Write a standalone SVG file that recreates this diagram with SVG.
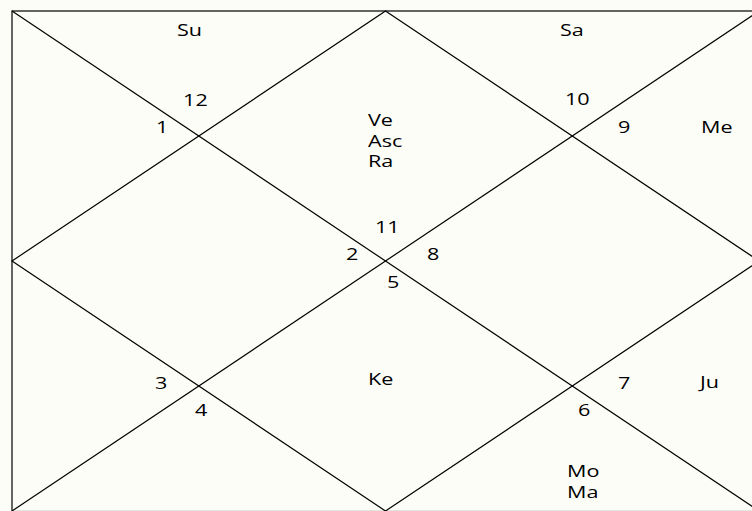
<svg xmlns="http://www.w3.org/2000/svg" width="752" height="511" viewBox="0 0 752 511">
<style>
.bg{fill:#fdfdf8}
.ln{stroke:#000;stroke-width:1.2;fill:none}
text{font-family:"Open Sans","Noto Sans","DejaVu Sans",sans-serif;font-size:16px;fill:#000}
</style>
<rect class="bg" x="0" y="0" width="752" height="511"/>
<g id="connectors">
<rect class="ln" x="12" y="11" width="747" height="500.5"/>
<line class="ln" x1="12" y1="11" x2="759" y2="511"/>
<line class="ln" x1="12" y1="511" x2="759" y2="11"/>
<polygon class="ln" points="385.5,11 759,261 385.5,511 12,261"/>
</g>
<g transform="scale(1.35 1)">
<g id="house1"><text x="115.6" y="133">1</text><text x="272.6" y="126">Ve</text><text x="272.6" y="147">Asc</text><text x="272.6" y="167">Ra</text></g>
<g id="house2"><text x="131.1" y="36">Su</text><text x="135.6" y="106">12</text></g>
<g id="house3"><text x="114.8" y="389">3</text></g>
<g id="house4"><text x="144.4" y="416">4</text><text x="272.6" y="385">Ke</text></g>
<g id="house5"><text x="286.7" y="288">5</text></g>
<g id="house6"><text x="428.1" y="416">6</text><text x="420" y="477">Mo</text><text x="420" y="498">Ma</text></g>
<g id="house7"><text x="457.8" y="389">7</text><text x="518.5" y="388">Ju</text></g>
<g id="house8"><text x="316.3" y="260">8</text></g>
<g id="house9"><text x="457.8" y="133">9</text><text x="519.3" y="133">Me</text></g>
<g id="house10"><text x="418.5" y="105">10</text><text x="414.8" y="36">Sa</text></g>
<g id="house11"><text x="277.8" y="233">11</text></g>
<g id="house12"><text x="256.3" y="260">2</text></g>
</g>
</svg>
